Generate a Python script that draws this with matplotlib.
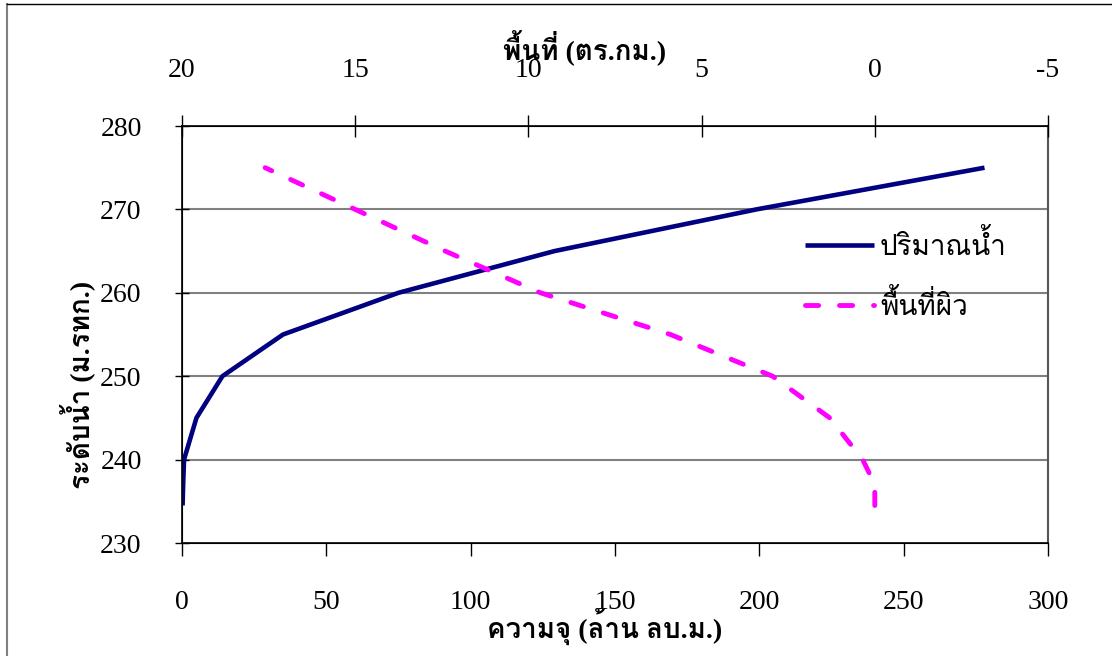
import matplotlib
matplotlib.use('Agg')
from matplotlib import pyplot as plt, font_manager
from matplotlib.ft2font import FT2Font
from matplotlib.lines import Line2D

# ระดับน้ำ / ความจุ / พื้นที่ผิว
elev = [234.5, 237, 240, 245, 250, 255, 260, 265, 270, 275]
volume = [0.2, 0.4, 0.7, 5, 14, 35, 75, 129, 199, 278]
area = [0, 0.0, 0.35, 1.3, 2.95, 5.9, 9.65, 12.4, 15.0, 17.6]

x_ticks = [0, 50, 100, 150, 200, 250, 300]
y_ticks = [230, 240, 250, 260, 270, 280]
top_ticks = [20, 15, 10, 5, 0, -5]


def find_thai_font():
    # ищем шрифт с тайскими глифами
    for f in font_manager.fontManager.ttflist:
        try:
            if ord('ก') in FT2Font(f.fname).get_charmap():
                return f.name
        except Exception:
            pass
    return None


thai = find_thai_font()
fams = ['Liberation Serif'] + ([thai] if thai else []) + ['DejaVu Sans']
plt.rcParams['font.family'] = fams
plt.rcParams['axes.unicode_minus'] = False

W, H = 1112, 656
fig = plt.figure(figsize=(W / 100, H / 100), dpi=100)
ax = fig.add_axes([182 / W, 1 - 543 / H, (1048 - 182) / W, (543 - 126) / H])

ax.set_xlim(0, 300)
ax.set_ylim(230, 280)
ax.set_xticks(x_ticks)
ax.set_yticks(y_ticks)
for y in y_ticks[1:-1]:
    ax.axhline(y, color='#808080', lw=1.5, zorder=1)

ax.tick_params(axis='x', direction='out', length=9, width=1, pad=25, labelsize=20)
ax.tick_params(axis='y', direction='inout', length=10, width=1, pad=24, labelsize=20)
for s in ['bottom', 'left']:
    ax.spines[s].set_linewidth(1.2)
ax.spines['right'].set_color('#555555')
ax.spines['right'].set_linewidth(1.5)

l1, = ax.plot(volume, elev, color='#000080', lw=3.3, solid_capstyle='butt', zorder=3)

ax2 = ax.twiny()
ax2.set_xlim(20, -5)
ax2.set_xticks(top_ticks)
ax2.tick_params(axis='x', direction='inout', length=16, width=1, pad=23, labelsize=20)
ax2.spines['top'].set_linewidth(1.2)
ax2.spines['right'].set_visible(False)
l2, = ax2.plot(area, elev, color='#FF00FF', lw=3.5, dashes=(2.7, 4.3),
               dash_capstyle='round', zorder=3)

lab = dict(fontsize=20, fontweight='bold', ha='center', va='center')
fig.text(605 / W, 1 - 627 / H, 'ความจุ (ล้าน ลบ.ม.)', **lab)
fig.text(585 / W, 1 - 48 / H, 'พื้นที่ (ตร.กม.)', **lab)
fig.text(78 / W, 1 - 385 / H, 'ระดับน้ำ (ม.รทก.)', rotation=90, **lab)

ax.legend([l1, l2], ['ปริมาณน้ำ', 'พื้นที่ผิว'], loc='upper left',
          bbox_to_anchor=(805 / W, 1 - 230 / H), bbox_transform=fig.transFigure,
          frameon=False, fontsize=20, handlelength=2.5, handletextpad=0.2,
          labelspacing=1.05, borderaxespad=0, borderpad=0)

# рамка вокруг рисунка
fig.add_artist(Line2D([7 / W, 7 / W], [0, 1 - 4 / H], color='#808080', lw=1.5,
                      transform=fig.transFigure))
fig.add_artist(Line2D([7 / W, 1], [1 - 4 / H, 1 - 4 / H], color='black', lw=1,
                      transform=fig.transFigure))

fig.savefig('out.png', dpi=100)
